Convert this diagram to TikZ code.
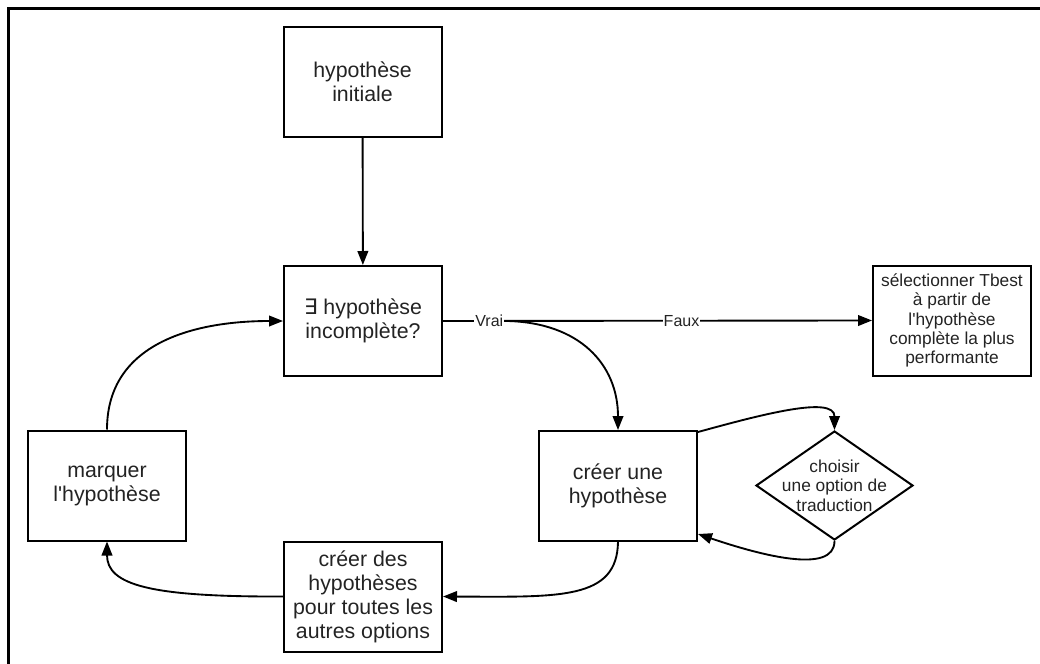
\documentclass[tikz,border=0pt]{standalone}
\usepackage{fontspec}
\setmainfont{Liberation Sans}[Ligatures=TeXOff]
\newfontfamily\symfont{DejaVu Sans}
\usetikzlibrary{arrows.meta,shapes.geometric}
\definecolor{ink}{RGB}{35,35,35}

\begin{document}
\begin{tikzpicture}[x=0.75pt,y=-0.75pt,
  box/.style={draw=black, line width=1.5pt, minimum width=118.5pt, minimum height=82.5pt,
    inner sep=2pt, align=center, text=ink, font=\fontsize{16}{18}\selectfont},
  smallbox/.style={box, font=\fontsize{13}{14.5}\selectfont},
  decision/.style={diamond, draw=black, line width=1.5pt, minimum width=117.75pt,
    minimum height=81.75pt, inner sep=0pt},
  smalltext/.style={align=center, text=ink, inner sep=0pt, font=\fontsize{13}{14.5}\selectfont},
  link/.style={line width=1.4pt, -{Triangle[length=10.5pt,width=8pt]}},
  lbl/.style={fill=white, inner sep=0.8pt, text=ink, font=\fontsize{12}{14}\selectfont}]

\useasboundingbox (0,0) rectangle (1040,664);

% outer frame (left and top edges)
\draw[line width=2pt] (8.5,664) -- (8.5,8.5) -- (1040,8.5);

% process boxes
\node[box] (b1) at (362.5,82) {hypothèse\\initiale};
\node[box] (b2) at (363,321) {{\symfont ∃} hypothèse\\incomplète?};
\node[smallbox] (sel) at (952,320.5) {sélectionner Tbest\\à partir de\\l'hypothèse\\complète la plus\\performante};
\node[box] (cr) at (618,486) {créer une\\hypothèse};
\node[decision] (dia) at (834.5,485.5) {};
\node[smalltext] (diatext) at (dia.center) {choisir\\une option de\\traduction};
\node[box] (b3) at (363,596.5) {créer des\\hypothèses\\pour toutes les\\autres options};
\node[box] (mq) at (107,485.5) {marquer\\l'hypothèse};

% connectors
\draw[link] (b1) -- (b2);
\draw[link] (b2.east) -- (sel.west)
  node[lbl, pos=0.108] (vrai) {Vrai}
  node[lbl, pos=0.556] (faux) {Faux};
\draw[link] (vrai.east) .. controls (580,322) and (618,365) .. (cr.north);
\draw[link] ([yshift=-1.5pt]cr.north east) .. controls (760,415) and (834.5,395) .. (dia.north);
\draw[link] (dia.south) .. controls (834.5,575) and (760,555) .. ([yshift=6pt]cr.south east);
\draw[link] (cr.south) .. controls (617,600) and (560,597) .. (b3.east);
\draw[link] (b3.west) .. controls (150,597) and (107,585) .. (mq.south);
\draw[link] (mq.north) .. controls (107,340) and (200,321) .. (b2.west);
\end{tikzpicture}
\end{document}
